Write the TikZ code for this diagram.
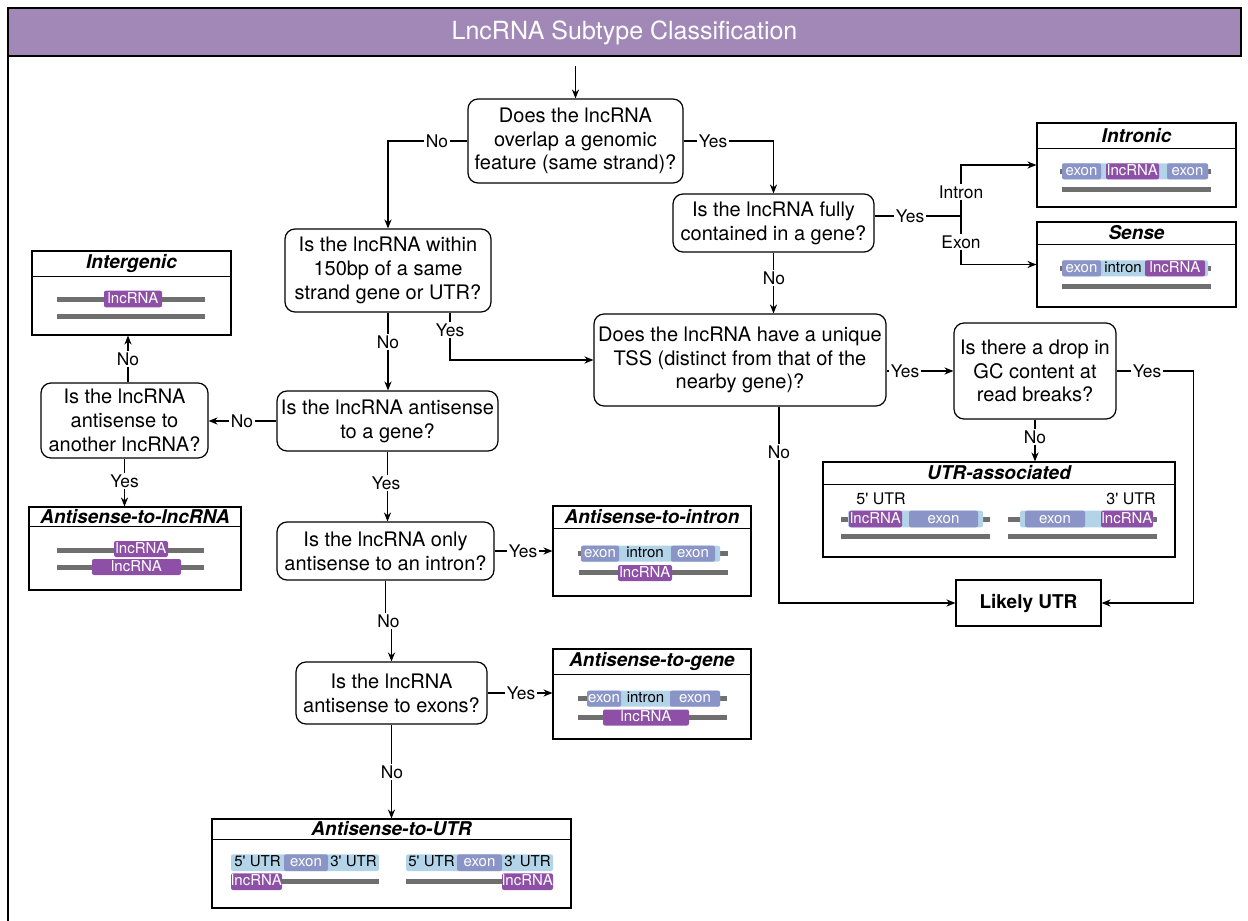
\documentclass[tikz,border=0pt]{standalone}
\usepackage{fontspec}
\setmainfont{TeX Gyre Heros}
\usetikzlibrary{arrows.meta,calc}
\definecolor{lnc}{HTML}{8E50A6}
\definecolor{exc}{HTML}{8B94C7}
\definecolor{ltb}{HTML}{B2D3E8}
\definecolor{gbc}{HTML}{6F6F6F}
\definecolor{hdr}{HTML}{A288B7}
\newcommand\lblfont{\fontsize{8.7}{10}\selectfont}
\newcommand\resbox[7]{%
  \node[res, minimum width=#4, minimum height=#5] (#1) at (#2,#3) {};
  \draw[line width=0.6pt] ([yshift={-#6pt}]#1.north west) -- ([yshift={-#6pt}]#1.north east);
  \node[ttl] (#1-t) at ([yshift={-#6*0.5pt}]#1.north) {#7};}
\begin{document}
\begin{tikzpicture}[x=0.5pt,y=-0.5pt,
  dec/.style={draw, line width=0.6pt, rounded corners=5pt, align=center, inner sep=0pt,
    font=\fontsize{10}{11.9}\selectfont},
  res/.style={draw, line width=0.6pt, rectangle, inner sep=0pt},
  ttl/.style={font=\fontsize{9.5}{11}\selectfont\bfseries\itshape, inner sep=0pt},
  lbl/.style={fill=white, inner sep=0.8pt, font=\lblfont, text height=6.3pt, text depth=0pt},
  arr/.style={line width=0.6pt, -{Stealth[length=4.5pt,width=3.6pt]}},
  ln/.style={line width=0.6pt},
  seg/.style={rounded corners=1pt, inner sep=0pt, minimum height=8pt,
    font=\fontsize{7.5}{8}\selectfont, text height=5.4pt, text depth=1.4pt},
  lncs/.style={seg, fill=lnc, text=white},
  exs/.style={seg, fill=exc, text=white},
  ibar/.style={seg, fill=ltb},
  gtxt/.style={inner sep=0pt, font=\fontsize{7.5}{8}\selectfont, text height=5.4pt, text depth=1.4pt},
  gb/.style={line width=2.5pt, gbc}
]
\useasboundingbox (0,0) rectangle (1248,921);
% frame and header
\draw[ln] (8,56) -- (8,921);
\filldraw[fill=hdr, line width=0.6pt] (8,8) rectangle (1241,56);
\node[font=\fontsize{12.5}{14}\selectfont, text=white] (title) at (624.5,33) {LncRNA Subtype Classification};

% decision boxes
\node[dec, minimum width=107.5pt, minimum height=42pt] (b1) at (575.5,141) {Does the lncRNA\\overlap a genomic\\feature (same strand)?};
\node[dec, minimum width=103pt, minimum height=41.5pt] (b2) at (388,270.5) {Is the lncRNA within\\150bp of a same\\strand gene or UTR?};
\node[dec, minimum width=110.5pt, minimum height=30pt] (b3) at (387.5,421) {Is the lncRNA antisense\\to a gene?};
\node[dec, minimum width=83.5pt, minimum height=37.5pt] (b4) at (124.5,420.5) {Is the lncRNA\\antisense to\\another lncRNA?};
\node[dec, minimum width=108.5pt, minimum height=29pt] (b5) at (385.5,551) {Is the lncRNA only\\antisense to an intron?};
\node[dec, minimum width=95.5pt, minimum height=31pt] (b6) at (391.5,693) {Is the lncRNA\\antisense to exons?};
\node[dec, minimum width=100.5pt, minimum height=29pt] (b7) at (773.5,223) {Is the lncRNA fully\\contained in a gene?};
\node[dec, minimum width=146pt, minimum height=46pt] (b8) at (740,360) {Does the lncRNA have a unique\\TSS (distinct from that of the\\nearby gene)?};
\node[dec, minimum width=81pt, minimum height=48pt] (b9) at (1035,371) {Is there a drop in\\GC content at\\read breaks?};
\node[res, minimum width=72.5pt, minimum height=23pt, font=\fontsize{9.5}{11}\selectfont\bfseries] (likely) at (1028.5,603) {Likely UTR};

% result boxes
\resbox{intronic}{1136.5}{165}{99.5pt}{42pt}{13}{Intronic}
\resbox{sense}{1136.5}{264.5}{99.5pt}{42.5pt}{11.5}{Sense}
\resbox{intergenic}{131.5}{293}{99.5pt}{42pt}{13}{Intergenic}
\resbox{asl}{135}{548.5}{106pt}{41.5pt}{10}{Antisense-to-lncRNA}
\resbox{asi}{652}{551}{99pt}{45pt}{11.5}{Antisense-to-intron}
\resbox{asg}{652}{694}{99pt}{45pt}{13}{Antisense-to-gene}
\resbox{asu}{391.5}{863.5}{179.5pt}{44.5pt}{10.5}{Antisense-to-UTR}
\resbox{utra}{999}{509.5}{176pt}{47.5pt}{11.5}{UTR-associated}

% Intronic
\draw[gb] (1060,171.3) -- (1211,171.3);
\node[ibar, minimum width=73pt] (in-bg) at (1135,171.3) {};
\node[exs, minimum width=19.5pt] (in-e1) at (1081.5,171.3) {exon};
\node[lncs, minimum width=26.5pt] (in-l) at (1132.5,171.3) {lncRNA};
\node[exs, minimum width=20.5pt] (in-e2) at (1187.5,171.3) {exon};
\draw[gb] (1062,189.3) -- (1211,189.3);
% Sense
\draw[gb] (1060,268.3) -- (1211,268.3);
\node[ibar, minimum width=73pt] (se-bg) at (1135,268.3) {};
\node[exs, minimum width=19.5pt] (se-e) at (1081.5,268.3) {exon};
\node[gtxt] (se-i) at (1123,268.3) {intron};
\node[lncs, minimum width=30pt] (se-l) at (1175,268.3) {lncRNA};
\draw[gb] (1062,286) -- (1211,286);
% Intergenic
\draw[gb] (57,299.3) -- (205,299.3);
\node[lncs, minimum width=29pt, minimum height=8.3pt] (ig-l) at (133,299) {lncRNA};
\draw[gb] (57,316.7) -- (205,316.7);
% Antisense-to-lncRNA
\draw[gb] (57,550) -- (204,550);
\node[lncs, minimum width=27pt] (al-l1) at (141,549) {lncRNA};
\draw[gb] (57,567.3) -- (204,567.3);
\node[lncs, minimum width=44.5pt] (al-l2) at (136.5,567) {lncRNA};
% Antisense-to-intron
\draw[gb] (578,553.7) -- (728,553.7);
\node[ibar, minimum width=69.5pt] (ai-bg) at (650.5,553.7) {};
\node[exs, minimum width=19pt] (ai-e1) at (600,553.7) {exon};
\node[gtxt] (ai-i) at (645,553.7) {intron};
\node[exs, minimum width=22pt] (ai-e2) at (693,553.7) {exon};
\draw[gb] (579,572) -- (728,572);
\node[lncs, minimum width=27pt] (ai-l) at (645,573) {lncRNA};
% Antisense-to-gene
\draw[gb] (578,698.7) -- (727,698.7);
\node[ibar, minimum width=66pt] (ag-bg) at (654,698.7) {};
\node[exs, minimum width=17pt] (ag-e1) at (604,698.7) {exon};
\node[gtxt] (ag-i) at (645.5,698.7) {intron};
\node[exs, minimum width=25pt] (ag-e2) at (695,698.7) {exon};
\draw[gb] (578,717.5) -- (727,717.5);
\node[lncs, minimum width=43pt] (ag-l) at (646,717.5) {lncRNA};
% Antisense-to-UTR
\node[ibar, minimum width=74pt, minimum height=8.3pt] (au-bg1) at (305,862.7) {};
\node[gtxt] (au-5a) at (257.5,862.7) {5\textquotesingle\ UTR};
\node[exs, minimum width=22pt, minimum height=8.3pt] (au-e1) at (306,862.7) {exon};
\node[gtxt] (au-3a) at (353.5,862.7) {3\textquotesingle\ UTR};
\draw[gb] (282,881.5) -- (379,881.5);
\node[lncs, minimum width=25.5pt, minimum height=8.3pt] (au-l1) at (256.5,881.7) {lncRNA};
\node[ibar, minimum width=73.5pt, minimum height=8.3pt] (au-bg2) at (479.5,862.7) {};
\node[gtxt] (au-5b) at (431.5,862.7) {5\textquotesingle\ UTR};
\node[exs, minimum width=22.5pt, minimum height=8.3pt] (au-e2) at (479.5,862.7) {exon};
\node[gtxt] (au-3b) at (527.5,862.7) {3\textquotesingle\ UTR};
\draw[gb] (406,881.5) -- (503,881.5);
\node[lncs, minimum width=25.5pt, minimum height=8.3pt] (au-l2) at (527.5,881.7) {lncRNA};
% UTR-associated
\node[gtxt, font=\fontsize{8}{9}\selectfont] (ua-5) at (881,500.7) {5\textquotesingle\ UTR};
\draw[gb] (841,519.3) -- (990,519.3);
\node[ibar, minimum width=67.5pt, minimum height=8.3pt] (ua-bg1) at (915.5,519) {};
\node[lncs, minimum width=26.5pt, minimum height=8.3pt] (ua-l1) at (875.5,519) {lncRNA};
\node[exs, minimum width=34.5pt, minimum height=8.3pt] (ua-e1) at (943.5,519) {exon};
\draw[gb] (841,536.7) -- (990,536.7);
\node[gtxt, font=\fontsize{8}{9}\selectfont] (ua-3) at (1131,500.7) {3\textquotesingle\ UTR};
\draw[gb] (1008,519.3) -- (1157,519.3);
\node[ibar, minimum width=66.5pt, minimum height=8.3pt] (ua-bg2) at (1086.5,519) {};
\node[exs, minimum width=30pt, minimum height=8.3pt] (ua-e2) at (1055,519) {exon};
\node[lncs, minimum width=26pt, minimum height=8.3pt] (ua-l2) at (1127,519) {lncRNA};
\draw[gb] (1008,536.7) -- (1157,536.7);

% connectors
\coordinate (start) at (575.5,66);
\coordinate (b2y) at ([xshift=31pt]b2.south);
\coordinate (b4n) at ([xshift=1.75pt]b4.north);
\coordinate (b8n) at ([xshift=19.5pt]b8.south);
\coordinate (J) at (961,216);
\coordinate (c9) at (1193.5,371);
\draw[arr] (start) -- (b1.north);
\draw[arr] (b1.west) -| (b2.north);
\draw[arr] (b1.east) -| (b7.north);
\draw[arr] (b2.south) -- (b2.south |- b3.north);
\draw[arr] (b2y) |- (b8.west);
\draw[arr] (b3.west) -- (b3.west -| b4.east);
\draw[arr] (b4n) -- (b4n |- intergenic.south);
\draw[arr] (b4.south) -- (b4.south |- asl.north);
\draw[arr] (b3.south) -- (b3.south |- b5.north);
\draw[arr] (b5.east) -- (b5.east -| asi.west);
\draw[arr] (b5.south) |- ($(b5.south)!0.5!(b6.north)$) -| (b6.north);
\draw[arr] (b6.east) -- (b6.east -| asg.west);
\draw[arr] (b6.south) -- (b6.south |- asu.north);
\draw[ln] (b7.east |- J) -- (J);
\draw[arr] (J) |- (intronic.west);
\draw[arr] (J) |- (sense.west);
\draw[arr] (b7.south) -- (b7.south |- b8.north);
\draw[arr] (b9.west -| b8.east) -- (b9.west);
\draw[arr] (b9.east) -- (b9.east -| c9) -- (c9 |- likely.east) -- (likely.east);
\draw[arr] (b9.south) -- (b9.south |- utra.north);
\draw[arr] (b8n) |- (likely.west);

% connector labels
\node[lbl] (l1) at (437,141) {No};
\node[lbl] (l2) at (713,141) {Yes};
\node[lbl] (l3) at (388,342) {No};
\node[lbl] (l4) at (450,330) {Yes};
\node[lbl] (l5) at (242,421) {No};
\node[lbl] (l6) at (128,359) {No};
\node[lbl] (l7) at (124.5,481) {Yes};
\node[lbl] (l8) at (386,483) {Yes};
\node[lbl] (l9) at (523,551) {Yes};
\node[lbl] (l10) at (388.5,621) {No};
\node[lbl] (l11) at (521,693) {Yes};
\node[lbl] (l12) at (392,772) {No};
\node[lbl] (l13) at (910,216) {Yes};
\node[lbl] (l14) at (961,192) {Intron};
\node[lbl] (l15) at (961,242) {Exon};
\node[lbl] (l16) at (774,278) {No};
\node[lbl] (l17) at (905,371) {Yes};
\node[lbl] (l18) at (1147,371) {Yes};
\node[lbl] (l19) at (1035,437) {No};
\node[lbl] (l20) at (779,452) {No};
\end{tikzpicture}
\end{document}
